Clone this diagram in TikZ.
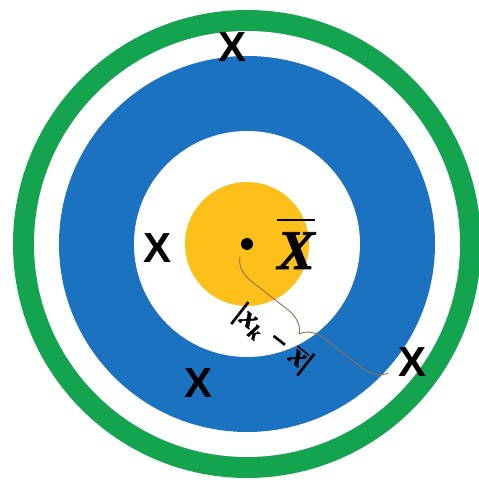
\documentclass[tikz,border=0pt]{standalone}
\usepackage{fontspec}
\setmainfont{Liberation Serif}[BoldItalicFeatures={FakeBold=1.5}]
\newfontfamily\samplefont{Liberation Sans}
\usepackage{tikz}
\usetikzlibrary{positioning,decorations.pathreplacing}

\definecolor{ringgreen}{RGB}{20,163,78}
\definecolor{ringblue}{RGB}{26,114,192}
\definecolor{ringyellow}{RGB}{253,192,26}
\definecolor{bracebrown}{RGB}{150,112,78}

% letter with a bar over it
\newcommand{\barred}[3]{\vbox{\hrule height #1\kern #2\hbox{#3}}}

\begin{document}
\begin{tikzpicture}[
x=1pt,y=1pt,
sample/.style={
inner sep=0pt,
font=\samplefont\bfseries\fontsize{42}{42}\selectfont
},
meanlabel/.style={
inner sep=0pt,
font=\bfseries\itshape\fontsize{56}{56}\selectfont
},
distlabel/.style={
inner sep=0pt,
rotate=-38,
font=\bfseries\itshape\fontsize{30}{30}\selectfont
},
gap/.style={
decorate,
decoration={brace,amplitude=24pt,mirror},
draw=bracebrown,
line width=0.9pt
}
]

\useasboundingbox[fill=white] (0,0) rectangle (479,482);

%%%%%%%%%%%%%%%%%%%%%%%%%%%%%%%%%%%%%%%%%%%%%
% Rings
%%%%%%%%%%%%%%%%%%%%%%%%%%%%%%%%%%%%%%%%%%%%%

\coordinate (c) at (247,238);

\fill[ringgreen] (c) circle (234pt);
\fill[white] (c) circle (213pt);

\fill[ringblue] (c) circle (188pt);
\fill[white] (c) circle (113pt);

\fill[ringyellow] (c) circle (62pt);

%%%%%%%%%%%%%%%%%%%%%%%%%%%%%%%%%%%%%%%%%%%%%
% Mean
%%%%%%%%%%%%%%%%%%%%%%%%%%%%%%%%%%%%%%%%%%%%%

\node[circle,fill=black,inner sep=0pt,minimum size=12pt] (dot) at (c) {};

\node[meanlabel,right=24pt of dot] (mean)
{\barred{2.2pt}{11pt}{X}};

%%%%%%%%%%%%%%%%%%%%%%%%%%%%%%%%%%%%%%%%%%%%%
% Samples
%%%%%%%%%%%%%%%%%%%%%%%%%%%%%%%%%%%%%%%%%%%%%

\node[sample] (xtop) at (233,435) {X};

\node[sample] (xleft) at (158,234) {X};

\node[sample] (xlow) at (199,99) {X};

\node[sample] (xright) at (413,120) {X};

%%%%%%%%%%%%%%%%%%%%%%%%%%%%%%%%%%%%%%%%%%%%%
% Distance
%%%%%%%%%%%%%%%%%%%%%%%%%%%%%%%%%%%%%%%%%%%%%

\coordinate (gapstart) at (240,225);
\coordinate (gapend) at (388,109);

\draw[gap] (gapstart)--(gapend);

\node[distlabel] (dist) at (273,143)
{|x\textsubscript{k}\hspace{0.3em}−\hspace{0.3em}\barred{1.5pt}{2pt}{x}|};

\end{tikzpicture}
\end{document}
